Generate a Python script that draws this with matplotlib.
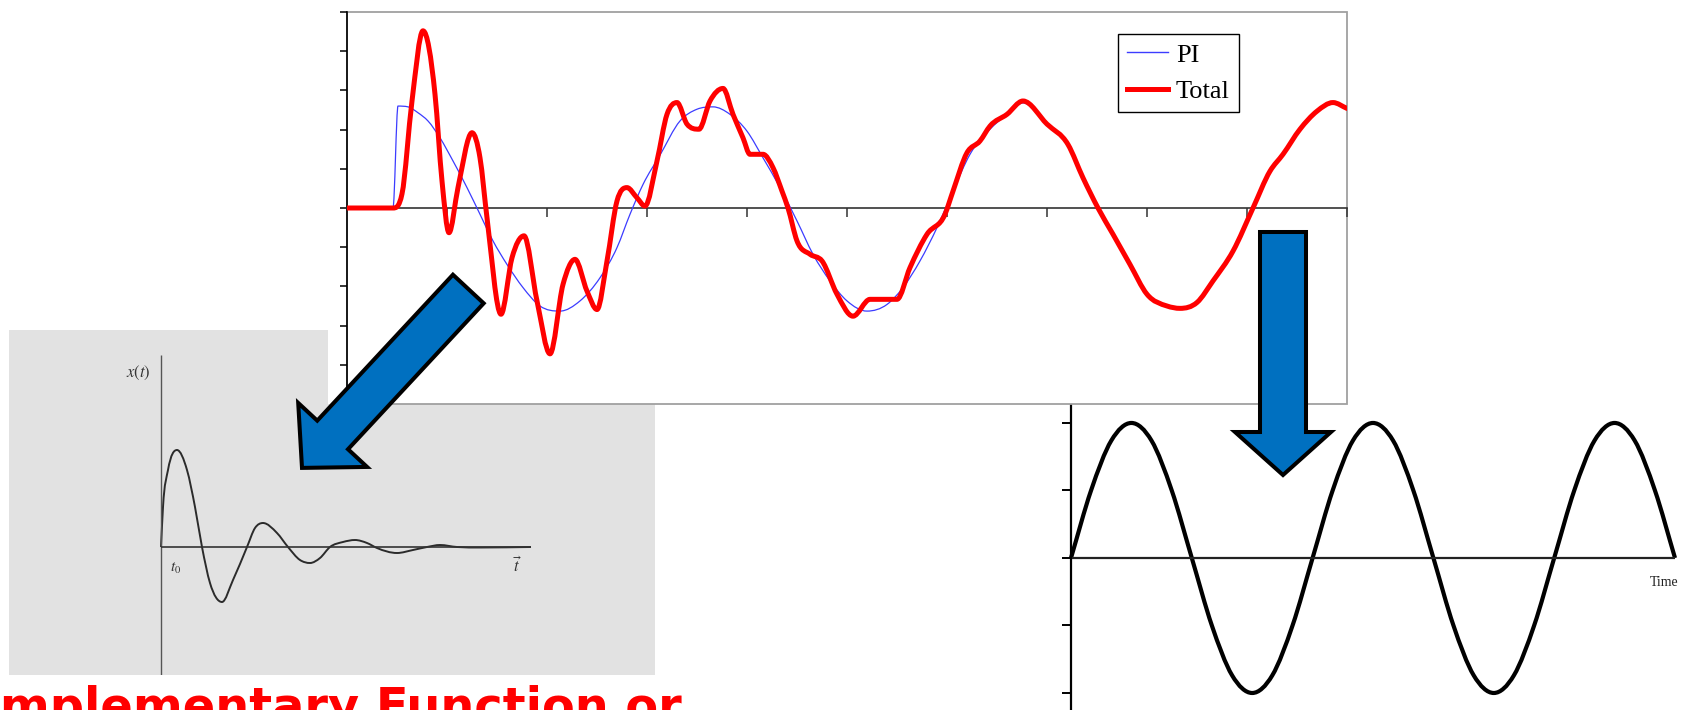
import numpy as np
import matplotlib
matplotlib.use('Agg')
import matplotlib.pyplot as plt
from matplotlib.path import Path
from matplotlib.patches import PathPatch, Rectangle, FancyArrow
from matplotlib.lines import Line2D

plt.rcParams['mathtext.fontset'] = 'stix'

W, H = 1700, 710

# main chart: particular integral (PI) and total response
pi_x = [0, 0.46, 0.51, 0.61, 0.71, 0.81, 0.93, 1.06, 1.20, 1.33,
        1.46, 1.60, 1.76, 1.93, 2.13, 2.33, 2.53, 2.70, 2.83, 2.96,
        3.13, 3.33, 3.50, 3.66, 3.83, 4.00, 4.16, 4.33, 4.50, 4.66,
        4.83, 5.00, 5.20, 5.40, 5.56, 5.73, 5.90, 6.06, 6.23, 6.43,
        6.60, 6.76, 7.00, 7.21, 7.36, 7.51, 7.66, 7.83, 8.00, 8.20,
        8.33, 8.50, 8.66, 8.86, 9.06, 9.23, 9.36, 9.53, 9.70, 9.86, 10.0]
pi_y = [0, 0, 2.6, 2.58, 2.43, 2.22, 1.79, 1.2, 0.52, -0.16,
        -0.84, -1.44, -2.03, -2.5, -2.63, -2.37, -1.78, -1.01, -0.16, 0.6,
        1.35, 2.22, 2.52, 2.58, 2.39, 1.96, 1.28, 0.52, -0.33, -1.18,
        -1.86, -2.37, -2.63, -2.46, -2.03, -1.35, -0.5, 0.43, 1.37, 2.01,
        2.39, 2.68, 2.16, 1.62, 0.77, 0, -0.67, -1.44, -2.18, -2.52,
        -2.58, -2.43, -1.86, -1.10, 0, 0.94, 1.40, 2.01, 2.45, 2.66, 2.54]

tot_x = [0, 0.46, 0.55, 0.65, 0.76, 0.88, 0.95, 1.02, 1.11, 1.25,
         1.33, 1.40, 1.54, 1.65, 1.77, 1.90, 2.03, 2.16, 2.28, 2.40,
         2.50, 2.60, 2.70, 2.80, 2.90, 2.98, 3.10, 3.20, 3.30, 3.40,
         3.52, 3.63, 3.76, 3.86, 3.96, 4.03, 4.16, 4.26, 4.35, 4.41,
         4.50, 4.63, 4.75, 4.90, 5.06, 5.23, 5.36, 5.50, 5.63, 5.80,
         5.98, 6.06, 6.20, 6.33, 6.43, 6.60, 6.76, 7.00, 7.21, 7.36,
         7.51, 7.66, 7.83, 8.00, 8.20, 8.33, 8.50, 8.66, 8.86, 9.06,
         9.23, 9.36, 9.53, 9.70, 9.86, 10.0]
tot_y = [0, 0, 0.36, 2.73, 4.52, 2.9, 0.69, -0.63, 0.52, 1.92,
         1.28, -0.25, -2.71, -1.27, -0.71, -2.37, -3.72, -1.95, -1.31, -2.12,
         -2.59, -1.35, 0.18, 0.52, 0.26, 0.05, 1.2, 2.39, 2.69, 2.14,
         2.01, 2.73, 3.05, 2.39, 1.79, 1.37, 1.37, 1.03, 0.43, 0,
         -0.84, -1.18, -1.35, -2.2, -2.76, -2.33, -2.33, -2.33, -1.52, -0.67,
         -0.16, 0.43, 1.41, 1.71, 2.09, 2.39, 2.73, 2.14, 1.62, 0.77,
         0, -0.67, -1.44, -2.2, -2.5, -2.56, -2.41, -1.86, -1.10, 0,
         0.94, 1.37, 2.01, 2.47, 2.69, 2.54]
legend_labels = ['PI', 'Total']

# left inset: decaying oscillation (complementary function)
cf_t = [0, 0.02, 0.07, 0.16, 0.26, 0.34, 0.41, 0.49, 0.61, 0.72,
        0.86, 0.94, 1.02, 1.16, 1.27, 1.39, 1.49, 1.59, 1.69, 1.82,
        1.94, 2.06, 2.16, 2.36, 2.52, 2.66, 2.79, 2.96, 3.20, 3.70]
cf_x = [0, 0.40, 0.77, 0.97, 0.77, 0.40, 0, -0.36, -0.55, -0.33,
        0, 0.19, 0.24, 0.14, 0, -0.13, -0.16, -0.11, 0, 0.05,
        0.07, 0.04, -0.01, -0.06, -0.03, 0, 0.02, 0, -0.005, 0]

# right inset: steady oscillation
sin_t = [0, 0.083, 0.167, 0.25, 0.333, 0.417, 0.5, 0.583, 0.667, 0.75,
         0.833, 0.917, 1.0, 1.083, 1.167, 1.25, 1.333, 1.417, 1.5, 1.583,
         1.667, 1.75, 1.833, 1.917, 2.0, 2.083, 2.167, 2.25, 2.333, 2.417, 2.5]
sin_y = [0, 0.5, 0.87, 1, 0.87, 0.5, 0, -0.5, -0.87, -1,
         -0.87, -0.5, 0, 0.5, 0.87, 1, 0.87, 0.5, 0, -0.5,
         -0.87, -1, -0.87, -0.5, 0, 0.5, 0.87, 1, 0.87, 0.5, 0]

caption = 'Complementary Function or'


def smooth_path(x, y):
    """smoothed line through the points (3-point slopes, no overshoot), as beziers"""
    x = np.asarray(x, float)
    y = np.asarray(y, float)
    h = np.diff(x)
    d = np.diff(y) / h
    m = np.zeros_like(y)
    m[0] = d[0]
    m[-1] = d[-1]
    for k in range(1, len(x) - 1):
        if d[k - 1] * d[k] > 0:
            s = (h[k] * d[k - 1] + h[k - 1] * d[k]) / (h[k - 1] + h[k])
            lim = 3 * min(abs(d[k - 1]), abs(d[k]))
            m[k] = np.sign(s) * min(abs(s), lim)
    verts = [(x[0], y[0])]
    codes = [Path.MOVETO]
    for k in range(len(x) - 1):
        verts += [(x[k] + h[k] / 3, y[k] + m[k] * h[k] / 3),
                  (x[k + 1] - h[k] / 3, y[k + 1] - m[k + 1] * h[k] / 3),
                  (x[k + 1], y[k + 1])]
        codes += [Path.CURVE4] * 3
    return Path(verts, codes)


def px_axes(x0, y0, x1, y1, **kw):
    return fig.add_axes([x0 / W, 1 - y1 / H, (x1 - x0) / W, (y1 - y0) / H], **kw)


fig = plt.figure(figsize=(W / 100, H / 100), dpi=100)
fig.patch.set_facecolor('white')

# ---- left inset (grey scanned figure)
axc = px_axes(9, 330, 655, 675, zorder=1)
axc.set_facecolor('#e2e2e2')
axc.set_xlim(-1.52, 4.94)
axc.set_ylim(-1.28, 2.17)
axc.set_xticks([])
axc.set_yticks([])
for s in axc.spines.values():
    s.set_visible(False)
axc.vlines(0, -1.28, 1.92, color='#555555', lw=1)
axc.hlines(0, 0, 3.70, color='#333333', lw=1.2)
axc.add_patch(PathPatch(smooth_path(cf_t, cf_x), fill=False, ec='#2b2b2b', lw=1.4))
axc.text(-0.23, 1.74, r'$x(t)$', ha='center', va='center', fontsize=12, color='#333333')
axc.text(0.15, -0.21, r'$t_0$', ha='center', va='center', fontsize=11, color='#333333')
axc.text(3.57, -0.19, r'$\vec{t}$', ha='center', va='center', fontsize=12, color='#333333')

# ---- white backing of the main chart
fig.add_artist(Rectangle((328 / W, 1 - 404 / H), (1348 - 328) / W, 404 / H,
                         transform=fig.transFigure, fc='white', ec='none', zorder=1.5))

# ---- main chart
ax = px_axes(347, 12, 1347, 404, zorder=2)
ax.patch.set_alpha(0)
ax.set_xlim(0, 10)
ax.set_ylim(-5, 5)
ax.spines['top'].set_visible(False)
ax.spines['right'].set_visible(False)
ax.spines['left'].set_color('black')
ax.spines['left'].set_linewidth(1.2)
ax.spines['bottom'].set_position(('data', 0))
ax.spines['bottom'].set_color('#333333')
ax.spines['bottom'].set_linewidth(1.2)
ax.add_patch(Rectangle((0, 0), 1, 1, transform=ax.transAxes, fill=False,
                       ec='#a0a0a0', lw=1.3, clip_on=False, zorder=1))
ax.set_xticks(range(1, 11))
ax.set_yticks(range(-5, 6))
ax.tick_params(axis='x', direction='out', length=6.5, width=1.1, color='#333333',
               labelbottom=False)
ax.tick_params(axis='y', direction='out', length=5, width=1.1, color='black',
               labelleft=False)

ax.add_patch(PathPatch(smooth_path(pi_x, pi_y), fill=False, ec='#3c3cff', lw=0.9, zorder=3))
ax.add_patch(PathPatch(smooth_path(tot_x, tot_y), fill=False, ec='#ff0000', lw=3.6,
                       capstyle='round', joinstyle='round', zorder=4))

handles = [Line2D([], [], color='#3c3cff', lw=1.0), Line2D([], [], color='#ff0000', lw=3.6)]
leg = ax.legend(handles, legend_labels, loc='upper left',
                bbox_to_anchor=(1118 / W, 1 - 34 / H), bbox_transform=fig.transFigure,
                prop={'family': 'Liberation Serif', 'size': 19}, frameon=True,
                fancybox=False, edgecolor='black', framealpha=1, borderpad=0.35,
                handlelength=1.55, handletextpad=0.3, labelspacing=0.48,
                borderaxespad=0)
leg.get_frame().set_linewidth(1.0)

# ---- right inset (steady sine)
axs = px_axes(1071, 405, 1675, 710, zorder=1)
axs.patch.set_alpha(0)
axs.set_xlim(0, 2.5)
axs.set_ylim(-1.126, 1.133)
for k in ('top', 'right', 'bottom'):
    axs.spines[k].set_visible(False)
axs.spines['left'].set_linewidth(1.6)
axs.set_xticks([])
axs.set_yticks([-1, -0.5, 0, 0.5, 1])
axs.tick_params(axis='y', direction='out', length=6.5, width=1.4, labelleft=False)
axs.axhline(0, color='#222222', lw=1.6)
axs.add_patch(PathPatch(smooth_path(sin_t, sin_y), fill=False, ec='black', lw=3.0,
                        clip_on=False))
axs.text(2.455, -0.18, 'Time', ha='center', va='center', fontsize=10,
         family='Liberation Serif', color='#222222')

# ---- overlay: arrows and caption, in pixel units
ov = fig.add_axes([0, 0, 1, 1], zorder=5)
ov.set_xlim(0, W)
ov.set_ylim(H, 0)
ov.axis('off')

ov.add_patch(FancyArrow(468.3, 289.0, -166.3, 178.9, width=42, head_width=94,
                        head_length=45, length_includes_head=True,
                        fc='#0070c0', ec='black', lw=2.9, joinstyle='miter'))
ov.add_patch(FancyArrow(1283, 232, 0, 243, width=46, head_width=96,
                        head_length=43, length_includes_head=True,
                        fc='#0070c0', ec='black', lw=2.9, joinstyle='miter'))

# size the caption so that the visible part spans 0..682 px, 'Co' runs off the left edge
renderer = fig.canvas.get_renderer()
probe_full = ov.text(0, 0, caption, fontsize=30, weight='bold', family='DejaVu Sans')
probe_co = ov.text(0, 0, caption[:2], fontsize=30, weight='bold', family='DejaVu Sans')
w_full = probe_full.get_window_extent(renderer).width
w_co = probe_co.get_window_extent(renderer).width
probe_full.remove()
probe_co.remove()
fs = 30 * 682 / (w_full - w_co)
x0 = -w_co * fs / 30
ov.text(x0, 687 + 0.729 * fs * 100 / 72, caption, fontsize=fs, weight='bold',
        family='DejaVu Sans', color='#ff0000', ha='left', va='baseline')

fig.savefig('out.png', dpi=100, facecolor='white')
